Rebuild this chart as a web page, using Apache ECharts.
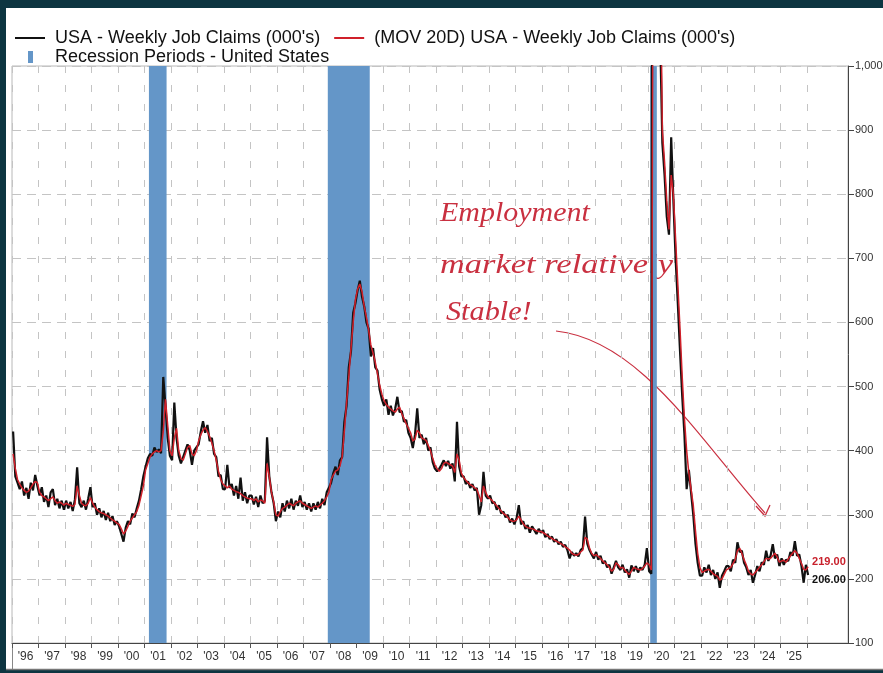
<!DOCTYPE html>
<html><head><meta charset="utf-8">
<script src="https://cdn.jsdelivr.net/npm/echarts@6/dist/echarts.min.js"></script>
<style>
html,body{margin:0;padding:0;background:#0d3541;width:883px;height:673px;overflow:hidden}
#panel{position:absolute;left:6px;top:8px;width:877px;height:662px;background:#fff}
#chart{position:absolute;left:0;top:0;width:883px;height:673px}
</style></head><body>
<div id="panel"></div><div id="chart"></div>
<script>
// ---------- DATA (monthly readings, Jan 1996 .. Jan 2026) ----------
const startYear = 1996;
const weeklyClaims = [
  430,360,350,340,352,330,342,325,350,338,362,345, // 1996
  330,343,320,330,312,335,340,315,325,310,322,308, // 1997
  322,310,320,306,324,374,318,312,322,308,325,343, // 1998
  312,318,300,310,296,306,292,303,290,298,284,290, // 1999
  282,270,258,280,290,285,302,296,310,322,340,360, // 2000
  375,388,395,392,405,398,402,396,515,470,420,392, // 2001
  385,475,420,392,380,390,400,410,400,378,400,405, // 2002
  410,430,446,428,440,415,420,395,390,360,362,340, // 2003
  340,378,342,348,330,345,325,358,322,335,318,330, // 2004
  330,316,328,312,330,318,322,421,360,335,318,290, // 2005
  305,296,318,305,322,310,325,308,322,314,330,312, // 2006
  320,308,318,305,318,308,320,310,325,315,335,342, // 2007
  350,365,375,362,385,390,445,470,530,555,615,630, // 2008
  650,665,640,625,600,590,547,560,530,525,495,480, // 2009
  470,480,456,470,455,465,484,460,462,445,448,428, // 2010
  420,404,425,466,420,425,410,420,400,405,382,372, // 2011
  368,372,378,385,376,384,372,380,352,445,375,360, // 2012
  360,348,352,342,348,338,342,300,315,367,330,325, // 2013
  330,318,320,308,315,302,305,296,300,288,294,285, // 2014
  295,315,285,290,278,284,272,282,276,270,278,272, // 2015
  276,265,270,262,266,258,262,254,258,250,253,245, // 2016
  232,242,236,240,235,245,248,297,255,245,238,232, // 2017
  242,230,236,224,228,218,222,208,218,228,218,214, // 2018
  222,210,215,202,221,212,220,210,218,214,222,248, // 2019
  212,208,3000,4500,2500,1050,880,830,765,737,889,790, // 2020
  700,630,555,485,425,340,370,335,300,255,225,205, // 2021
  205,218,210,222,206,214,200,210,186,205,212,220, // 2022
  220,212,230,225,257,242,244,225,218,206,214,194, // 2023
  206,220,212,226,222,244,228,236,254,232,238,220, // 2024
  232,222,230,228,242,236,259,236,238,220,194,222, // 2025
  206                                              // 2026
];
const movAvg20 = [
  395,372,355,348,342,338,335,337,342,348,352,350, // 1996
  335,330,328,325,322,325,328,322,318,320,318,315, // 1997
  318,316,315,313,316,345,330,318,315,314,318,327, // 1998
  318,312,308,305,303,302,300,298,295,292,290,287, // 1999
  285,278,270,275,282,290,295,300,305,315,330,345, // 2000
  370,380,390,395,398,400,398,400,430,480,440,400, // 2001
  392,420,435,400,388,385,395,405,408,395,392,400, // 2002
  415,425,432,436,430,422,412,400,385,368,355,348, // 2003
  345,342,345,340,338,336,335,333,330,328,326,325, // 2004
  325,322,325,320,323,322,318,380,360,335,320,300, // 2005
  298,305,310,312,315,318,316,314,318,320,322,318, // 2006
  316,314,312,310,312,314,312,315,318,322,328,335, // 2007
  355,362,368,370,376,390,430,475,515,560,600,635, // 2008
  652,660,648,625,608,588,565,552,538,520,502,488, // 2009
  478,472,468,465,462,460,465,468,458,450,442,435, // 2010
  428,415,418,432,428,420,418,416,408,400,388,378, // 2011
  372,368,372,380,382,380,378,376,366,395,385,365, // 2012
  358,354,350,347,345,342,340,330,320,345,335,328, // 2013
  325,322,318,314,310,306,302,300,296,292,290,290, // 2014
  292,298,292,286,282,280,279,278,277,275,274,274, // 2015
  272,270,267,265,263,261,259,257,255,253,250,248, // 2016
  245,240,238,237,238,242,245,265,262,248,240,236, // 2017
  238,235,232,228,225,222,218,212,215,225,222,217, // 2018
  218,214,210,207,212,218,216,215,214,216,220,225, // 2019
  222,214,1500,3500,3000,1200,900,850,790,745,830,800, // 2020
  730,660,590,515,450,400,365,340,315,275,240,218, // 2021
  210,212,214,215,212,208,206,204,198,200,207,214, // 2022
  216,218,224,230,244,248,240,230,222,212,208,206, // 2023
  210,214,218,222,227,232,231,232,236,240,234,226, // 2024
  228,229,226,231,236,240,244,240,232,224,215,214, // 2025
  219                                              // 2026
];
const recessions = [[2001.167, 2001.833], [2007.917, 2009.5], [2020.083, 2020.333]];
const seriesNames = [
  "USA - Weekly Job Claims (000's)",
  "(MOV 20D) USA - Weekly Job Claims (000's)",
  "Recession Periods - United States"
];
const annotationLines = ["Employment", "market relatively", "Stable!"];

// ---------- LAYOUT ----------
const W = 883, H = 673;
const LEFT = 12, PLOT_RIGHT = 848, TICK_END = 807, TOP = 66, AXIS_Y = 643;
const lastYear = 2026;
const pxPerYear = (TICK_END - LEFT) / (lastYear - startYear);
const xMaxMain = startYear + (PLOT_RIGHT - LEFT) / pxPerYear;

const toPairs = arr => arr.map((v, i) => [startYear + (i + 0.5) / 12, v]);

const chart = echarts.init(document.getElementById('chart'), null, {renderer: 'canvas'});
const red = '#d0202a', black = '#111111', blue = '#6496c8', ink = '#c93040';
const FONT = 'Liberation Sans, Arial, sans-serif';
const HAND = 'italic 28px "Liberation Serif", serif';

chart.setOption({
  animation: false,
  textStyle: {fontFamily: FONT},
  grid: [
    {left: LEFT, right: W - PLOT_RIGHT, top: TOP, bottom: H - AXIS_Y, show: true, borderColor: '#b8b8b8', borderWidth: 1, containLabel: false, outerBoundsMode: 'none'},
    {left: LEFT, right: W - TICK_END, top: TOP, bottom: H - AXIS_Y, containLabel: false, outerBoundsMode: 'none'}
  ],
  legend: [
    {
      left: 10, top: 24, itemWidth: 30, itemHeight: 2, itemGap: 14,
      data: [{name: seriesNames[0], icon: 'rect'}, {name: seriesNames[1], icon: 'rect'}],
      textStyle: {fontSize: 18, color: '#111', fontFamily: FONT, padding: [0, 0, 0, 5]},
      selectedMode: false
    },
    {
      left: 23, top: 43, itemWidth: 5, itemHeight: 12,
      data: [{name: seriesNames[2], icon: 'rect'}],
      textStyle: {fontSize: 18, color: '#111', fontFamily: FONT, padding: [0, 0, 0, 17]},
      selectedMode: false
    }
  ],
  xAxis: [
    {
      type: 'value', gridIndex: 0, min: startYear, max: xMaxMain,
      axisLine: {show: true, onZero: false, lineStyle: {color: '#444', width: 1}},
      axisTick: {show: false}, axisLabel: {show: false}, splitLine: {show: false}
    },
    {
      type: 'value', gridIndex: 1, min: startYear, max: lastYear, interval: 1,
      axisLine: {show: false},
      axisTick: {show: true, length: 5, lineStyle: {color: '#555'}},
      axisLabel: {
        fontSize: 12, color: '#333', margin: 8, padding: [0, 0, 0, 27],
        formatter: v => v < lastYear ? "'" + String(v).slice(2) : ''
      },
      splitLine: {show: true, lineStyle: {color: '#c4c4c4', type: [7, 12], width: 1}}
    }
  ],
  yAxis: [
    {
      type: 'value', gridIndex: 0, position: 'right', min: 100, max: 1000, interval: 100,
      axisLine: {show: true, lineStyle: {color: '#444', width: 1}},
      axisTick: {show: true, length: 6, lineStyle: {color: '#444'}},
      axisLabel: {fontSize: 11, color: '#333', margin: 7, formatter: v => v.toLocaleString('en-US')},
      splitLine: {show: true, lineStyle: {color: '#c4c4c4', type: [9, 6], width: 1}}
    },
    {type: 'value', gridIndex: 1, min: 100, max: 1000, show: false}
  ],
  series: [
    {
      name: seriesNames[2], type: 'line', xAxisIndex: 0, yAxisIndex: 0, data: [], z: 1,
      itemStyle: {color: blue}, lineStyle: {color: blue},
      markArea: {
        silent: true,
        itemStyle: {color: blue, opacity: 1},
        data: recessions.map(r => [{xAxis: r[0]}, {xAxis: r[1]}])
      }
    },
    {
      name: seriesNames[0], type: 'line', xAxisIndex: 0, yAxisIndex: 0, z: 3,
      data: toPairs(weeklyClaims), showSymbol: false, symbol: 'none',
      itemStyle: {color: black}, lineStyle: {color: black, width: 2.2},
      endLabel: {show: true, formatter: p => p.value[1].toFixed(2), color: '#111', fontWeight: 'bold', fontSize: 11, distance: 4, offset: [0, 5]}
    },
    {
      name: seriesNames[1], type: 'line', xAxisIndex: 0, yAxisIndex: 0, z: 4,
      data: toPairs(movAvg20), showSymbol: false, symbol: 'none',
      itemStyle: {color: red}, lineStyle: {color: red, width: 1.5},
      endLabel: {show: true, formatter: p => p.value[1].toFixed(2), color: '#c8202b', fontWeight: 'bold', fontSize: 11, distance: 4, offset: [0, -5]}
    }
  ],
  graphic: [
    {type: 'line', silent: true, shape: {x1: LEFT + 0.5, y1: AXIS_Y, x2: LEFT + 0.5, y2: 670}, style: {stroke: '#888', lineWidth: 1}},
    {type: 'line', silent: true, shape: {x1: 6, y1: 669.5, x2: W, y2: 669.5}, style: {stroke: '#777', lineWidth: 1.5}},
    {type: 'text', silent: true, x: 440, y: 200, scaleX: 1.07, style: {text: annotationLines[0], fill: ink, font: HAND}},
    {type: 'text', silent: true, x: 440, y: 252, scaleX: 1.23, style: {text: annotationLines[1], fill: ink, font: HAND}},
    {type: 'text', silent: true, x: 446, y: 299, scaleX: 1.08, style: {text: annotationLines[2], fill: ink, font: HAND}},
    {type: 'bezierCurve', silent: true, shape: {x1: 556, y1: 331, cpx1: 640, cpy1: 340, cpx2: 700, cpy2: 440, x2: 765, y2: 513}, style: {stroke: ink, lineWidth: 1.2, fill: null}},
    {type: 'polyline', silent: true, shape: {points: [[756, 506], [765, 516], [770, 505]]}, style: {stroke: ink, lineWidth: 1.3, fill: null}}
  ]
});
</script>
</body></html>
